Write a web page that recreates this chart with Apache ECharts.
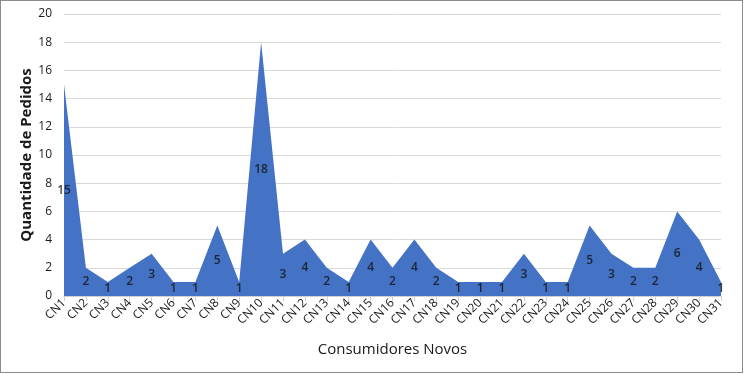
<!DOCTYPE html>
<html><head><meta charset="utf-8">
<script src="https://cdn.jsdelivr.net/npm/echarts@6/dist/echarts.min.js"></script>
<style>
html,body{margin:0;padding:0;background:#fff;}
#frame{position:absolute;left:0;top:0;width:743px;height:373px;box-sizing:border-box;border:1px solid #8c8c8c;}
#c{position:absolute;left:0;top:0;width:745px;height:374px;}
</style></head>
<body>
<div id="frame"></div>
<div id="c"></div>
<script>
const categories = ['CN1','CN2','CN3','CN4','CN5','CN6','CN7','CN8','CN9','CN10','CN11','CN12','CN13','CN14','CN15','CN16','CN17','CN18','CN19','CN20','CN21','CN22','CN23','CN24','CN25','CN26','CN27','CN28','CN29','CN30','CN31'];
const pedidos = [15,2,1,2,3,1,1,5,1,18,3,4,2,1,4,2,4,2,1,1,1,3,1,1,5,3,2,2,6,4,1];
const yTicks = {min:0, max:20, interval:2};

const font = '"Open Sans", "Noto Sans", sans-serif';
const labelPoints = pedidos.map((v,i)=>[i, v/2, v]);

const chart = echarts.init(document.getElementById('c'));
chart.setOption({
  animation:false,
  grid:{left:64,right:24,top:14,bottom:78,containLabel:false},
  xAxis:{
    type:'category', data:categories, boundaryGap:false,
    name:'Consumidores Novos', nameLocation:'middle', nameGap:46, nameMoveOverlap:false,
    nameTextStyle:{fontFamily:font,fontSize:15,color:'#1a1a1a'},
    axisLine:{lineStyle:{color:'#d0d0d0'}},
    axisTick:{show:true,alignWithLabel:true,lineStyle:{color:'#d0d0d0'},length:5},
    axisLabel:{rotate:45,interval:0,fontFamily:font,fontSize:12,color:'#1a1a1a',margin:5}
  },
  yAxis:{
    type:'value', min:yTicks.min, max:yTicks.max, interval:yTicks.interval,
    name:'Quantidade de Pedidos', nameLocation:'middle', nameGap:30, nameMoveOverlap:false,
    nameTextStyle:{fontFamily:font,fontSize:15,fontWeight:'bold',color:'#1a1a1a'},
    axisLine:{show:false}, axisTick:{show:false},
    axisLabel:{fontFamily:font,fontSize:12,color:'#1a1a1a',margin:12},
    splitLine:{lineStyle:{color:'#d9d9d9',width:1}}
  },
  series:[
    {type:'line', z:2, data:pedidos, symbol:'none', lineStyle:{width:0,color:'#4472C4'},
     areaStyle:{color:'#4472C4',opacity:1}},
    {type:'scatter', z:5, zlevel:1, data:labelPoints, symbolSize:1, clip:false, silent:true,
     itemStyle:{color:'rgba(0,0,0,0)'},
     labelLayout:{hideOverlap:false},
     label:{show:true, position:'inside', formatter:p=>String(p.value[2]),
       fontFamily:font, fontSize:12, fontWeight:600, color:'#111'}}
  ]
});
</script>
</body></html>
